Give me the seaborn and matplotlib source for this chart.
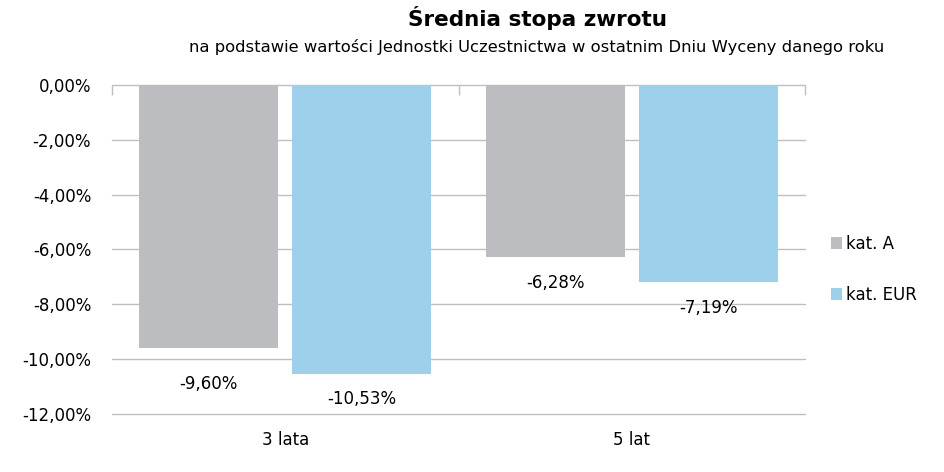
import matplotlib
matplotlib.use("Agg")
import matplotlib.pyplot as plt
import seaborn as sns
import pandas as pd
import numpy as np

categories = ["3 lata", "5 lat"]
series = ["kat. A", "kat. EUR"]
kat_a = [-9.60, -6.28]
kat_eur = [-10.53, -7.19]
colors = ["#BCBDC0", "#9DD0EA"]
yticks = [0, -2, -4, -6, -8, -10, -12]

df = pd.DataFrame({
    "kat": categories * 2,
    "seria": [series[0]] * 2 + [series[1]] * 2,
    "val": kat_a + kat_eur,
})

sns.set_theme(style="white")
plt.rcParams["font.family"] = ["DejaVu Sans"]
plt.rcParams["text.color"] = "black"
plt.rcParams["xtick.color"] = "black"
plt.rcParams["ytick.color"] = "black"

fig = plt.figure(figsize=(9.45, 4.72), dpi=100)
ax = fig.add_axes([0.1185, 0.123, 0.7335, 0.697])

sns.barplot(data=df, x="kat", y="val", hue="seria", palette=colors,
            width=0.883, gap=0.092, saturation=1, linewidth=0, ax=ax, legend=True)

ax.set_ylim(-12, 0)
ax.set_xlim(-0.5, 1.5)
ax.set_yticks(yticks)
ax.set_yticklabels([f"{v:.2f}".replace(".", ",") + "%" for v in yticks], fontsize=12)
ax.yaxis.grid(True, color="#BFBFBF", linewidth=1)
for gl in ax.get_ygridlines():
    gl.set_clip_on(False)
ax.set_axisbelow(True)
for s in ax.spines.values():
    s.set_visible(False)
ax.set_xlabel("")
ax.set_ylabel("")
ax.tick_params(axis="y", length=0, pad=15, labelcolor="black")
ax.tick_params(axis="x", which="major", length=0, pad=12, labelsize=12, labelcolor="black")
ax.set_xticks([-0.5, 0.5, 1.5], minor=True)
ax.tick_params(axis="x", which="minor", top=True, bottom=False, direction="in",
               length=7, color="#BFBFBF", width=1)

label_offsets = [[-19, -12], [-12, -12]]  # points below bar end, per series/category
for si, cont in enumerate(ax.containers):
    for ci, bar in enumerate(cont):
        h = bar.get_height()
        ax.annotate(f"{h:.2f}".replace(".", ",") + "%",
                    (bar.get_x() + bar.get_width() / 2, h),
                    xytext=(0, label_offsets[si][ci]), textcoords="offset points",
                    ha="center", va="top", fontsize=12, color="black")

leg = ax.legend(loc="center left", bbox_to_anchor=(1.015, 0.44), frameon=False,
                fontsize=12, handlelength=0.7, handleheight=0.7,
                handletextpad=0.2, labelspacing=2.0)
for t in leg.get_texts():
    t.set_color("black")

fig.text(0.569, 0.962, "Średnia stopa zwrotu", ha="center", va="center",
         fontsize=15.5, fontweight="bold", color="black")
fig.text(0.568, 0.900, "na podstawie wartości Jednostki Uczestnictwa w ostatnim Dniu Wyceny danego roku",
         ha="center", va="center", fontsize=11.8, color="black")

fig.savefig("out.png", dpi=100)
